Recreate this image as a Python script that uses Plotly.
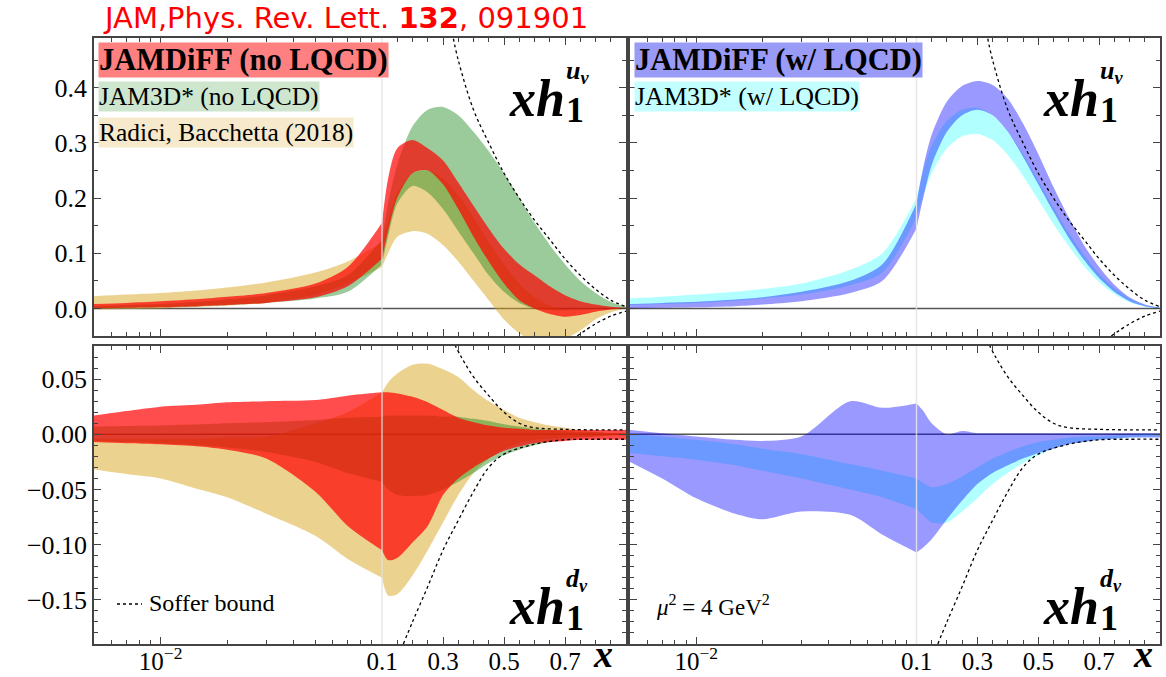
import math
import plotly.graph_objects as go

W, H = 1166, 677

# ---------------- data ----------------
X = [0.005, 0.007, 0.01, 0.015, 0.02, 0.03, 0.05, 0.07, 0.1, 0.12, 0.15, 0.2, 0.25,
     0.3, 0.35, 0.4, 0.45, 0.5, 0.55, 0.6, 0.65, 0.7, 0.75, 0.8, 0.85, 0.9]

# u_v, no LQCD
U_RED_HI = [0.008, 0.010, 0.013, 0.017, 0.021, 0.028, 0.045, 0.075, 0.155, 0.235, 0.29, 0.305, 0.29,
            0.268, 0.228, 0.186, 0.145, 0.108, 0.08, 0.06, 0.04, 0.024, 0.013, 0.007, 0.003, 0.001]
U_RED_LO = [0.0, 0.001, 0.002, 0.004, 0.006, 0.01, 0.02, 0.04, 0.09, 0.14, 0.2, 0.245, 0.25,
            0.225, 0.18, 0.13, 0.085, 0.045, 0.015, 0.0, -0.01, -0.015, -0.012, -0.006, -0.002, 0.0]
U_GRN_HI = [0.004, 0.006, 0.008, 0.012, 0.016, 0.024, 0.04, 0.06, 0.125, 0.19, 0.26, 0.33, 0.36,
            0.365, 0.35, 0.32, 0.285, 0.245, 0.2, 0.155, 0.115, 0.08, 0.05, 0.028, 0.012, 0.003]
U_GRN_LO = [0.0, 0.001, 0.002, 0.004, 0.006, 0.01, 0.018, 0.03, 0.08, 0.13, 0.19, 0.222, 0.21,
            0.18, 0.14, 0.1, 0.06, 0.03, 0.01, 0.0, -0.003, -0.004, -0.003, -0.002, -0.001, 0.0]
U_TAN_HI = [0.022, 0.025, 0.028, 0.033, 0.038, 0.047, 0.065, 0.085, 0.12, 0.16, 0.21, 0.245, 0.25,
            0.235, 0.205, 0.165, 0.12, 0.08, 0.045, 0.02, 0.005, -0.002, -0.003, -0.002, -0.001, 0.0]
U_TAN_LO = [-0.002, -0.001, 0.0, 0.003, 0.005, 0.01, 0.025, 0.045, 0.075, 0.1, 0.13, 0.14, 0.135,
            0.115, 0.085, 0.05, 0.015, -0.02, -0.045, -0.06, -0.062, -0.055, -0.04, -0.02, -0.007, 0.0]

# u_v, with LQCD
U_BLU_HI = [0.008, 0.01, 0.012, 0.016, 0.02, 0.03, 0.05, 0.08, 0.19, 0.25, 0.315, 0.375, 0.403,
            0.412, 0.405, 0.38, 0.335, 0.28, 0.22, 0.165, 0.115, 0.075, 0.043, 0.02, 0.007, 0.001]
U_BLU_LO = [0.0, 0.001, 0.002, 0.004, 0.007, 0.013, 0.028, 0.05, 0.145, 0.195, 0.26, 0.32, 0.35,
            0.36, 0.35, 0.32, 0.275, 0.225, 0.175, 0.128, 0.088, 0.055, 0.03, 0.013, 0.004, 0.0]
U_CYN_HI = [0.018, 0.021, 0.025, 0.03, 0.035, 0.045, 0.07, 0.1, 0.2, 0.245, 0.295, 0.34, 0.36,
            0.363, 0.35, 0.32, 0.28, 0.232, 0.183, 0.137, 0.097, 0.063, 0.037, 0.018, 0.006, 0.001]
U_CYN_LO = [0.006, 0.008, 0.01, 0.014, 0.018, 0.025, 0.042, 0.065, 0.165, 0.2, 0.245, 0.29, 0.312,
            0.316, 0.305, 0.278, 0.24, 0.197, 0.153, 0.113, 0.077, 0.048, 0.026, 0.011, 0.003, 0.0]

# d_v, no LQCD
D_RED_HI = [0.017, 0.021, 0.025, 0.027, 0.029, 0.030, 0.031, 0.035, 0.038, 0.038, 0.037, 0.034, 0.029,
            0.022, 0.015, 0.011, 0.008, 0.006, 0.005, 0.004, 0.004, 0.004, 0.004, 0.004, 0.004, 0.004]
D_RED_LO = [-0.007, -0.008, -0.009, -0.011, -0.014, -0.022, -0.052, -0.083, -0.105, -0.114, -0.112, -0.098, -0.083,
            -0.055, -0.04, -0.03, -0.022, -0.015, -0.011, -0.008, -0.007, -0.006, -0.005, -0.005, -0.005, -0.005]
D_GRN_HI = [0.007, 0.0075, 0.008, 0.009, 0.01, 0.011, 0.013, 0.015, 0.016, 0.017, 0.017, 0.017, 0.017,
            0.016, 0.016, 0.014, 0.012, 0.009, 0.007, 0.005, 0.004, 0.003, 0.002, 0.002, 0.001, 0.001]
D_GRN_LO = [-0.006, -0.007, -0.008, -0.01, -0.012, -0.016, -0.025, -0.035, -0.043, -0.05, -0.055, -0.056, -0.055,
            -0.05, -0.043, -0.035, -0.026, -0.019, -0.014, -0.01, -0.007, -0.005, -0.003, -0.002, -0.001, -0.001]
D_TAN_HI = [-0.004, -0.004, -0.004, -0.004, -0.003, -0.002, 0.01, 0.02, 0.038, 0.047, 0.055, 0.063, 0.064,
            0.059, 0.052, 0.04, 0.03, 0.022, 0.015, 0.011, 0.008, 0.006, 0.004, 0.002, 0.001, 0.001]
D_TAN_LO = [-0.032, -0.036, -0.04, -0.05, -0.057, -0.072, -0.092, -0.113, -0.13, -0.146, -0.145, -0.128, -0.105,
            -0.08, -0.055, -0.035, -0.022, -0.013, -0.008, -0.005, -0.004, -0.003, -0.002, -0.002, -0.001, -0.001]

# d_v, with LQCD
D_BLU_HI = [0.004, 0.001, -0.002, -0.005, -0.006, -0.002, 0.03, 0.024, 0.028, 0.022, 0.01, 0.0, 0.003,
            0.001, 0.001, 0.001, 0.001, 0.001, 0.001, 0.001, 0.001, 0.001, 0.001, 0.001, 0.001, 0.001]
D_BLU_LO = [-0.025, -0.04, -0.058, -0.072, -0.077, -0.07, -0.073, -0.091, -0.107, -0.103, -0.095, -0.077, -0.06,
            -0.045, -0.035, -0.028, -0.022, -0.017, -0.013, -0.009, -0.007, -0.005, -0.004, -0.003, -0.003, -0.003]
D_CYN_HI = [0.0, -0.002, -0.005, -0.009, -0.013, -0.018, -0.027, -0.033, -0.04, -0.044, -0.048, -0.045, -0.038,
            -0.03, -0.022, -0.016, -0.011, -0.007, -0.005, -0.003, -0.002, -0.002, -0.001, -0.001, 0.0, 0.0]
D_CYN_LO = [-0.017, -0.02, -0.023, -0.028, -0.033, -0.04, -0.05, -0.057, -0.068, -0.073, -0.08, -0.08, -0.07,
            -0.058, -0.045, -0.035, -0.026, -0.019, -0.013, -0.009, -0.007, -0.005, -0.004, -0.003, -0.002, -0.002]

# Soffer bounds
SOF_U_HI_X = [0.33, 0.35, 0.4, 0.45, 0.5, 0.55, 0.6, 0.65, 0.7, 0.75, 0.8, 0.85, 0.9]
SOF_U_HI_Y = [0.5, 0.45, 0.36, 0.3, 0.245, 0.2, 0.16, 0.125, 0.09, 0.06, 0.035, 0.015, 0.003]
SOF_U_LO_X = [0.74, 0.8, 0.85, 0.9]
SOF_U_LO_Y = [-0.05, -0.028, -0.014, -0.005]
SOF_D_HI_X = [0.33, 0.36, 0.4, 0.45, 0.5, 0.55, 0.6, 0.7, 0.8, 0.9]
SOF_D_HI_Y = [0.086, 0.07, 0.052, 0.035, 0.02, 0.01, 0.006, 0.0045, 0.004, 0.004]
SOF_D_LO_X = [0.17, 0.2, 0.25, 0.3, 0.35, 0.4, 0.45, 0.5, 0.6, 0.7, 0.8, 0.9]
SOF_D_LO_Y = [-0.19, -0.17, -0.138, -0.105, -0.078, -0.052, -0.03, -0.018, -0.009, -0.005, -0.0045, -0.0045]

LOG_MINOR = [0.006, 0.007, 0.008, 0.009, 0.02, 0.03, 0.04, 0.05, 0.06, 0.07, 0.08, 0.09]
LIN_TICKS = [0.1, 0.3, 0.5, 0.7]
LIN_MINOR = [0.15, 0.2, 0.25, 0.35, 0.4, 0.45, 0.55, 0.6, 0.65, 0.75, 0.8, 0.85]
U_TICKS = [0.0, 0.1, 0.2, 0.3, 0.4]
U_MINOR = [-0.05, 0.05, 0.15, 0.25, 0.35, 0.45]
D_TICKS = [-0.15, -0.10, -0.05, 0.0, 0.05]
D_MINOR = [-0.18, -0.17, -0.16, -0.14, -0.13, -0.12, -0.11, -0.09, -0.08, -0.07, -0.06,
           -0.04, -0.03, -0.02, -0.01, 0.01, 0.02, 0.03, 0.04, 0.06, 0.07]

# ---------------- styles ----------------
C_RED = "rgba(255,0,0,0.7)"
C_GRN = "rgba(34,139,34,0.45)"
C_TAN = "rgba(218,165,32,0.5)"
C_BLU = "rgba(0,0,255,0.4)"
C_CYN = "rgba(0,255,255,0.3)"
FRAME = "#444444"
SERIF = "Liberation Serif"

def px(p):
    return p / W

def py(p):
    return 1 - p / H

fig = go.Figure()

panels = [
    dict(n=1, xs=(94, 382, 626), ys=(38, 336), kind="u", labels_y=True, labels_x=False),
    dict(n=2, xs=(630, 916.5, 1160), ys=(38, 336), kind="u", labels_y=False, labels_x=False),
    dict(n=3, xs=(94, 382, 626), ys=(346, 644), kind="d", labels_y=True, labels_x=True),
    dict(n=4, xs=(630, 916.5, 1160), ys=(346, 644), kind="d", labels_y=False, labels_x=True),
]

bands = {
    1: [(U_TAN_LO, U_TAN_HI, C_TAN), (U_GRN_LO, U_GRN_HI, C_GRN), (U_RED_LO, U_RED_HI, C_RED)],
    2: [(U_CYN_LO, U_CYN_HI, C_CYN), (U_BLU_LO, U_BLU_HI, C_BLU)],
    3: [(D_TAN_LO, D_TAN_HI, C_TAN), (D_GRN_LO, D_GRN_HI, C_GRN), (D_RED_LO, D_RED_HI, C_RED)],
    4: [(D_CYN_LO, D_CYN_HI, C_CYN), (D_BLU_LO, D_BLU_HI, C_BLU)],
}

tickfont = dict(family=SERIF, size=26, color="black")
common = dict(showgrid=False, zeroline=False, showline=True, linecolor=FRAME, linewidth=1.5,
              ticks="inside", tickcolor=FRAME, tickwidth=1.2, ticklen=7, tickfont=tickfont,
              automargin=False)

layout = {}
shapes = []
ilog_split = X.index(0.1)

for p in panels:
    n = p["n"]
    il, ir = 2 * n - 1, 2 * n
    xl_name = "x" if il == 1 else f"x{il}"
    xr_name = f"x{ir}"
    yl_name = "y" if il == 1 else f"y{il}"
    yr_name = f"y{ir}"
    L, B, R = p["xs"]
    T, Bo = p["ys"]
    ydom = [py(Bo), py(T)]
    if p["kind"] == "u":
        yrange = [-0.05, 0.49]
        ytv, ytt, ymin = U_TICKS, [f"{v:.1f}" for v in U_TICKS], U_MINOR
    else:
        yrange = [-0.19, 0.08]
        ytv, ytt, ymin = D_TICKS, [f"{v:.2f}".replace("-", "\u2212") for v in D_TICKS], D_MINOR
    minor_y = dict(tickvals=ymin, ticks="inside", ticklen=4, tickcolor=FRAME, tickwidth=1)
    xfont = dict(family=SERIF, size=25, color="black")

    layout[f"xaxis{il}"] = dict(
        common, type="log", domain=[px(L), px(B)], range=[math.log10(0.005), -1],
        anchor=yl_name, mirror="ticks", tickfont=xfont, ticklabelstandoff=-6,
        tickmode="array", tickvals=[0.01], ticktext=["10<sup>\u22122</sup>"],
        showticklabels=p["labels_x"],
        minor=dict(tickvals=LOG_MINOR, ticks="inside", ticklen=4, tickcolor=FRAME, tickwidth=1))
    layout[f"xaxis{ir}"] = dict(
        common, domain=[px(B), px(R)], range=[0.1, 0.9], anchor=yr_name, mirror="ticks",
        tickfont=xfont, ticklabelstandoff=-6,
        tickmode="array", tickvals=LIN_TICKS, ticktext=[f"{v:.1f}" for v in LIN_TICKS],
        showticklabels=p["labels_x"],
        minor=dict(tickvals=LIN_MINOR, ticks="inside", ticklen=4, tickcolor=FRAME, tickwidth=1))
    layout[f"yaxis{il}"] = dict(
        common, domain=ydom, range=yrange, anchor=xl_name, side="left",
        tickmode="array", tickvals=ytv, ticktext=ytt, showticklabels=p["labels_y"], minor=minor_y)
    layout[f"yaxis{ir}"] = dict(
        common, domain=ydom, range=yrange, anchor=xr_name, side="right",
        tickmode="array", tickvals=ytv, ticktext=ytt, showticklabels=False, minor=minor_y)

    shapes.append(dict(type="line", xref="paper", yref=yl_name, x0=px(L), x1=px(R), y0=0, y1=0,
                       line=dict(color="#555555", width=1.5), layer="below"))
    shapes.append(dict(type="line", xref="paper", yref="paper", x0=px(B), x1=px(B),
                       y0=ydom[0], y1=ydom[1], line=dict(color="rgba(225,225,225,0.8)", width=1.5),
                       layer="above"))

    for lo, hi, col in bands[n]:
        for part, xa, ya in ((slice(0, ilog_split + 1), xl_name, yl_name),
                             (slice(ilog_split, None), xr_name, yr_name)):
            xs = X[part]
            fig.add_trace(go.Scatter(x=xs, y=lo[part], xaxis=xa, yaxis=ya, mode="lines",
                                     line=dict(width=0, shape="spline", smoothing=0.8),
                                     showlegend=False, hoverinfo="skip"))
            fig.add_trace(go.Scatter(x=xs, y=hi[part], xaxis=xa, yaxis=ya, mode="lines",
                                     line=dict(width=0, shape="spline", smoothing=0.8),
                                     fill="tonexty", fillcolor=col,
                                     showlegend=False, hoverinfo="skip"))

    if p["kind"] == "u":
        sof = [(SOF_U_HI_X, SOF_U_HI_Y), (SOF_U_LO_X, SOF_U_LO_Y)]
    else:
        sof = [(SOF_D_HI_X, SOF_D_HI_Y), (SOF_D_LO_X, SOF_D_LO_Y)]
    for sx, sy in sof:
        fig.add_trace(go.Scatter(x=sx, y=sy, xaxis=xr_name, yaxis=yr_name, mode="lines",
                                 line=dict(color="black", width=1.3, dash="dot", shape="spline"),
                                 showlegend=False, hoverinfo="skip"))

# ---------------- annotations ----------------
ann = []

def text(x, y, s, size, color="black", family=SERIF, xanchor="left", yanchor="middle", bg=None):
    d = dict(x=px(x), y=py(y), xref="paper", yref="paper", text=s, showarrow=False,
             xanchor=xanchor, yanchor=yanchor, font=dict(family=family, size=size, color=color),
             borderpad=0)
    if bg:
        d["bgcolor"] = bg
    ann.append(d)

text(345, 18, "JAM,Phys. Rev. Lett. <b>132</b>, 091901", 29, color="red",
     family="DejaVu Sans", xanchor="center")

text(98, 60, "<b>JAMDiFF (no LQCD)</b>", 30.5, bg="#ff8080")
text(98, 96, "JAM3D* (no LQCD)", 25.5, bg="#cde6cd")
text(98, 133, "Radici, Bacchetta (2018)", 25.5, bg="#f6e9cc")
text(634, 60, "<b>JAMDiFF (w/ LQCD)</b>", 30.5, bg="#9a9af7")
text(634, 96, "JAM3D* (w/ LQCD)", 26, bg="#c4ffff")

for (x0, yb, flav) in [(508, 98, "u"), (1042, 98, "u"), (508, 606, "d"), (1042, 606, "d")]:
    text(x0, yb, "<b><i>xh</i></b>", 52, xanchor="left")
    text(x0 + 57, yb + 12, "<b>1</b>", 36, xanchor="left")
    text(x0 + 57, yb - 26, f"<b><i>{flav}<sub>v</sub></i></b>", 26, xanchor="left")

text(603, 676, "<b><i>x</i></b>", 38, xanchor="center", yanchor="bottom")
text(1143, 676, "<b><i>x</i></b>", 38, xanchor="center", yanchor="bottom")

text(148, 603, "Soffer bound", 24)
shapes.append(dict(type="line", xref="paper", yref="paper", x0=px(117), x1=px(142),
                   y0=py(604), y1=py(604), line=dict(color="black", width=1.3, dash="dot")))
text(655, 605, "<i>μ</i><sup>2</sup> = 4 GeV<sup>2</sup>", 23)

fig.update_layout(
    width=W, height=H, margin=dict(l=0, r=0, t=0, b=0, autoexpand=False),
    paper_bgcolor="white", plot_bgcolor="white",
    showlegend=False, shapes=shapes, annotations=ann, **layout)

fig.write_html("out.html", config={"displayModeBar": False},
               post_script="document.body.style.margin='0px';document.body.style.padding='0px';"
                           "document.body.style.overflow='hidden';")
